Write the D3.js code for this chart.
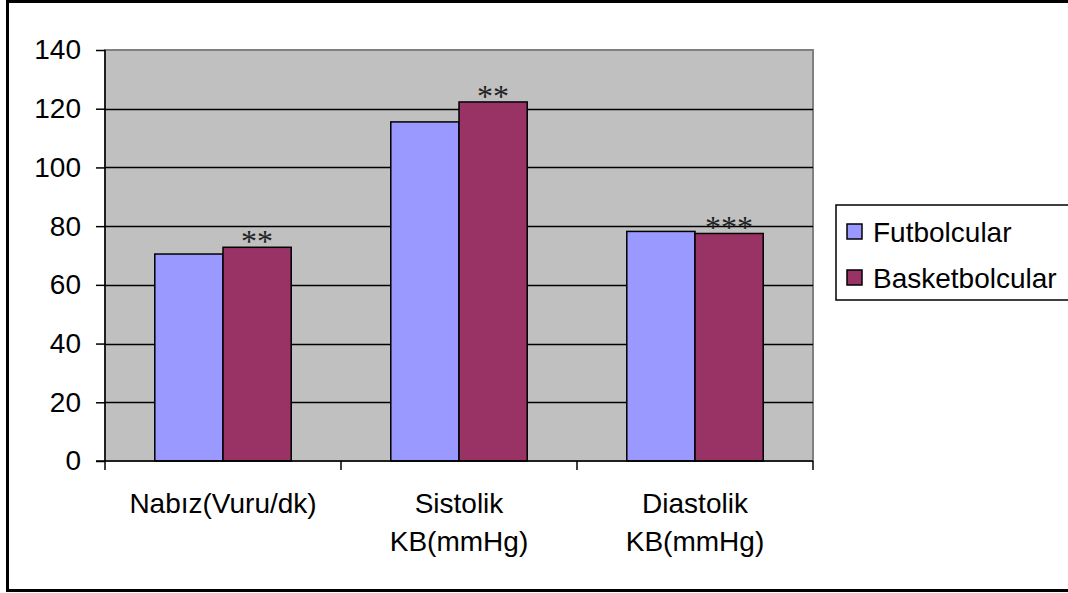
<!DOCTYPE html>
<html>
<head>
<meta charset="utf-8">
<script src="https://cdn.jsdelivr.net/npm/d3@7"></script>
<style>
  body { margin: 0; background: #fff; }
  svg { display: block; font-family: "Liberation Sans", Arial, sans-serif; }
</style>
</head>
<body>
<svg id="chart" width="1068" height="593"></svg>
<script>
// data
var categories = ["Nabız(Vuru/dk)", "Sistolik KB(mmHg)", "Diastolik KB(mmHg)"];
var catLines = [["Nabız(Vuru/dk)"], ["Sistolik", "KB(mmHg)"], ["Diastolik", "KB(mmHg)"]];
var seriesNames = ["Futbolcular", "Basketbolcular"];
var futbol = [70.5, 115.5, 78.2];
var basket = [72.8, 122.3, 77.5];
var stars = ["**", "**", "***"];
var yTicks = [0, 20, 40, 60, 80, 100, 120, 140];
var colors = ["#9999FF", "#993366"];

var svg = d3.select("#chart");

// outer frame
svg.append("rect")
  .attr("x", 7.5).attr("y", 1.5)
  .attr("width", 1080).attr("height", 589)
  .attr("fill", "#fff").attr("stroke", "#000").attr("stroke-width", 3);

var pLeft = 105, pTop = 50, pRight = 813, pBottom = 461;

var x = d3.scaleBand().domain(categories).range([pLeft, pRight]);
var x1 = d3.scaleBand().domain(seriesNames).range([0, x.bandwidth()]).paddingOuter(0.73);
var y = d3.scaleLinear().domain([0, 140]).range([pBottom, pTop]);

// plot area
svg.append("rect")
  .attr("x", pLeft).attr("y", pTop)
  .attr("width", pRight - pLeft).attr("height", pBottom - pTop)
  .attr("fill", "#C0C0C0").attr("stroke", "#808080").attr("stroke-width", 2);

// gridlines
svg.append("g").selectAll("line")
  .data(yTicks.filter(d => d > 0 && d < 140))
  .join("line")
  .attr("x1", pLeft).attr("x2", pRight)
  .attr("y1", d => Math.round(y(d)) + 0.5).attr("y2", d => Math.round(y(d)) + 0.5)
  .attr("stroke", "#000").attr("stroke-width", 1.5);

// bars
var data = categories.map((c, i) => ({ cat: c, vals: [futbol[i], basket[i]], star: stars[i] }));
var groups = svg.append("g").selectAll("g")
  .data(data)
  .join("g")
  .attr("transform", d => `translate(${x(d.cat)},0)`);

groups.selectAll("rect")
  .data(d => d.vals.map((v, j) => ({ name: seriesNames[j], v: v, j: j })))
  .join("rect")
  .attr("x", d => x1(d.name))
  .attr("width", x1.bandwidth())
  .attr("y", d => y(d.v))
  .attr("height", d => pBottom - y(d.v))
  .attr("fill", d => colors[d.j])
  .attr("stroke", "#000").attr("stroke-width", 1.5);

// significance marks above the second bar
groups.append("text")
  .attr("x", d => x1(seriesNames[1]) + x1.bandwidth() / 2)
  .attr("y", d => y(d.vals[1]) + 5)
  .attr("text-anchor", "middle")
  .style("font-family", "'Liberation Serif', 'Times New Roman', serif")
  .style("font-size", "32px")
  .style("fill", "#222")
  .text(d => d.star);

// y axis
var yAxis = d3.axisLeft(y).tickValues(yTicks).tickSize(9).tickPadding(15);
var gy = svg.append("g").attr("transform", `translate(${pLeft},0)`).call(yAxis);
gy.select(".domain").attr("stroke-width", 1.5).attr("d", `M0,${pTop}V${pBottom}`);
gy.selectAll(".tick line").attr("stroke-width", 1.5);
gy.selectAll("text")
  .style("font-family", "'Liberation Sans', Arial, sans-serif")
  .style("font-size", "28px").style("fill", "#000");

// x axis
var gx = svg.append("g").attr("transform", `translate(0,${pBottom})`);
gx.append("line").attr("x1", pLeft - 9).attr("x2", pRight).attr("stroke", "#000").attr("stroke-width", 1.5);
gx.selectAll(".xt")
  .data([pLeft].concat(categories.map(c => x(c) + x.bandwidth())))
  .join("line")
  .attr("x1", d => d).attr("x2", d => d)
  .attr("y1", 0).attr("y2", 9)
  .attr("stroke", "#000").attr("stroke-width", 1.5);

gx.selectAll(".xl")
  .data(catLines)
  .join("text")
  .attr("x", (d, i) => x(categories[i]) + x.bandwidth() / 2)
  .attr("y", 52)
  .attr("text-anchor", "middle")
  .style("font-size", "28px")
  .each(function(lines) {
    var t = d3.select(this);
    lines.forEach((l, k) => {
      t.append("tspan").attr("x", t.attr("x")).attr("dy", k === 0 ? 0 : 38).text(l);
    });
  });

// legend
var lg = svg.append("g");
lg.append("rect")
  .attr("x", 836).attr("y", 205)
  .attr("width", 260).attr("height", 95)
  .attr("fill", "#fff").attr("stroke", "#000").attr("stroke-width", 1.5);

var items = lg.selectAll(".li")
  .data(seriesNames)
  .join("g")
  .attr("transform", (d, i) => `translate(847,${224 + i * 46})`);
items.append("rect")
  .attr("width", 15).attr("height", 15)
  .attr("fill", (d, i) => colors[i])
  .attr("stroke", "#000").attr("stroke-width", 1.5);
items.append("text")
  .attr("x", 26).attr("y", 18)
  .style("font-size", "28px")
  .text(d => d);
</script>
</body>
</html>
